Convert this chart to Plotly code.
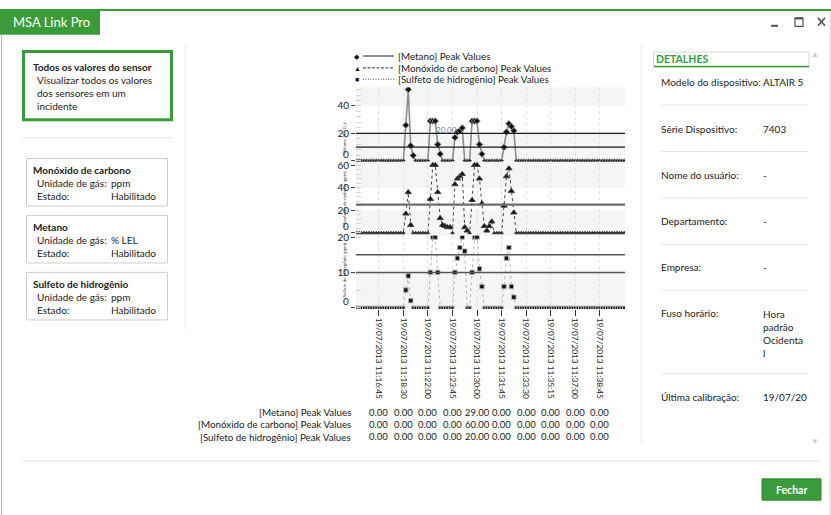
import plotly.graph_objects as go
from plotly.subplots import make_subplots

W, H = 831, 515
FONT = "Segoe UI, Lato, Noto Sans, sans-serif"
GREEN = "#3a9b3a"
TXT = "#222222"

# ---------------- data ----------------
sample = list(range(110))
metano = [0, 0, 0, 0, 0, 0, 0, 0, 0, 0,
          0, 0, 0, 0, 0, 0, 0, 0, 0, 0,
          26, 52, 11, 4, 0, 0, 0, 0, 0, 0,
          29, 29, 29, 12, 5, 0, 0, 0, 0, 0,
          17, 21, 22, 24, 0, 0, 0, 29, 29, 29,
          12, 5, 0, 0, 0, 0, 0, 0, 0, 0,
          10, 21, 27, 25, 22, 0, 0, 0, 0, 0,
          0, 0, 0, 0, 0, 0, 0, 0, 0, 0,
          0, 0, 0, 0, 0, 0, 0, 0, 0, 0,
          0, 0, 0, 0, 0, 0, 0, 0, 0, 0,
          0, 0, 0, 0, 0, 0, 0, 0, 0, 0]
monoxido = [0, 0, 0, 0, 0, 0, 0, 0, 0, 0,
            0, 0, 0, 0, 0, 0, 0, 0, 0, 0,
            17, 36, 7, 0, 0, 0, 0, 0, 0, 0,
            30, 60, 60, 36, 13, 7, 6, 5, 5, 0,
            43, 48, 50, 52, 5, 2, 0, 29, 60, 60,
            48, 26, 6, 2, 6, 10, 0, 0, 0, 0,
            24, 50, 57, 37, 18, 0, 0, 0, 0, 0,
            0, 0, 0, 0, 0, 0, 0, 0, 0, 0,
            0, 0, 0, 0, 0, 0, 0, 0, 0, 0,
            0, 0, 0, 0, 0, 0, 0, 0, 0, 0,
            0, 0, 0, 0, 0, 0, 0, 0, 0, 0]
sulfeto = [0, 0, 0, 0, 0, 0, 0, 0, 0, 0,
           0, 0, 0, 0, 0, 0, 0, 0, 0, 0,
           5, 9, 2, 0, 0, 0, 0, 0, 0, 0,
           10, 20, 20, 10, 0, 0, 0, 0, 0, 0,
           10, 14, 17, 20, 16, 0, 0, 10, 20, 20,
           11, 6, 0, 0, 0, 0, 0, 0, 0, 0,
           6, 14, 17, 6, 3, 0, 0, 0, 0, 0,
           0, 0, 0, 0, 0, 0, 0, 0, 0, 0,
           0, 0, 0, 0, 0, 0, 0, 0, 0, 0,
           0, 0, 0, 0, 0, 0, 0, 0, 0, 0,
           0, 0, 0, 0, 0, 0, 0, 0, 0, 0]
tick_labels = ["19/07/2013 11:16:45", "19/07/2013 11:18:30", "19/07/2013 11:22:00",
               "19/07/2013 11:23:45", "19/07/2013 11:30:00", "19/07/2013 11:31:45",
               "19/07/2013 11:33:30", "19/07/2013 11:35:15", "19/07/2013 11:37:00",
               "19/07/2013 11:38:45"]
tick_samples = sample[9::10][:len(tick_labels)]
series_names = ["[Metano] Peak Values", "[Monóxido de carbono] Peak Values",
                "[Sulfeto de hidrogênio] Peak Values"]
axis_titles = ["Metano [% LEL]", "Monóxido de carbono [ppm]", "Sulfeto de hidrogênio [ppm]"]
alarms_metano = [20, 10]
alarms_co = [25]
alarms_h2s = [15, 10]
sensor_cards = [("Monóxido de carbono", "ppm", "Habilitado"),
                ("Metano", "% LEL", "Habilitado"),
                ("Sulfeto de hidrogênio", "ppm", "Habilitado")]
details = [("Modelo do dispositivo:", "ALTAIR 5"),
           ("Série Dispositivo:", "7403"),
           ("Nome do usuário:", "-"),
           ("Departamento:", "-"),
           ("Empresa:", "-"),
           ("Fuso horário:", "Hora<br>padrão<br>Ocidenta<br>l"),
           ("Última calibração:", "19/07/20")]


def fx(px):
    return px / W


def fy(py):
    return 1 - py / H


def msize(values, big):
    # smaller markers on the flat zero baseline, as in the source chart
    return [3.2 if v == 0 else big for v in values]


fig = make_subplots(rows=3, cols=1, shared_xaxes=True, vertical_spacing=0)

# ---------------- series ----------------
fig.add_trace(go.Scatter(x=sample, y=metano, mode="lines+markers", name=series_names[0],
                         line=dict(color="#8c8c8c", width=1.6),
                         marker=dict(symbol="diamond", size=msize(metano, 5), color="#111",
                                     opacity=1)),
              row=1, col=1)
fig.add_trace(go.Scatter(x=sample, y=monoxido, mode="lines+markers", name=series_names[1],
                         line=dict(color="#444", width=1, dash="dot"),
                         marker=dict(symbol="triangle-up", size=msize(monoxido, 5.5), color="#111",
                                     opacity=1)),
              row=2, col=1)
fig.add_trace(go.Scatter(x=sample, y=sulfeto, mode="lines+markers", name=series_names[2],
                         line=dict(color="#b5b5b5", width=1, dash="dot"),
                         marker=dict(symbol="square", size=msize(sulfeto, 4.5), color="#111",
                                     opacity=1)),
              row=3, col=1)

# ---------------- background bands & alarm lines ----------------
BAND = "#f5f5f5"
fig.add_hrect(y0=40, y1=60, row=1, col=1, fillcolor=BAND, line_width=0, layer="below")
fig.add_hrect(y0=-5, y1=20, row=1, col=1, fillcolor=BAND, line_width=0, layer="below")
fig.add_hrect(y0=40, y1=70, row=2, col=1, fillcolor=BAND, line_width=0, layer="below")
fig.add_hrect(y0=-5, y1=20, row=2, col=1, fillcolor=BAND, line_width=0, layer="below")
fig.add_hrect(y0=-5, y1=10, row=3, col=1, fillcolor=BAND, line_width=0, layer="below")

for v in alarms_metano:
    fig.add_hline(y=v, row=1, col=1, line=dict(color="#1a1a1a", width=1.3))
for v in alarms_co:
    fig.add_hline(y=v, row=2, col=1, line=dict(color="#6e6e6e", width=2.2))
for v in alarms_h2s:
    fig.add_hline(y=v, row=3, col=1, line=dict(color="#555", width=1.5))

# ---------------- axes ----------------
xdom = [fx(356), fx(625)]
for i in (1, 2, 3):
    fig.update_xaxes(row=i, col=1, domain=xdom, range=[-0.3, 109.3],
                     tickmode="array", tickvals=tick_samples,
                     ticktext=tick_labels if i == 3 else [""] * len(tick_labels),
                     showgrid=True, gridcolor="#e2e2e2", griddash="dot", gridwidth=1,
                     zeroline=False, showline=False,
                     ticks="outside" if i == 3 else "", ticklen=6, tickcolor="#333",
                     tickangle=90, tickfont=dict(family=FONT, size=8.3, color=TXT))

ydefs = [
    (1, [fy(158), fy(83)], [-0.43, 53.7], [0, 20, 40], 4),
    (2, [fy(233), fy(158)], [-2.5, 63.2], [0, 20, 40, 60], 4),
    (3, [fy(307), fy(233)], [-0.36, 20.36], [0, 10, 20], 5),
]
for r, dom, rng, tv, mdt in ydefs:
    fig.update_yaxes(row=r, col=1, domain=dom, range=rng, tickmode="array", tickvals=tv,
                     ticktext=["" if t == 0 else str(t) for t in tv],
                     ticks="outside", ticklen=4, tickcolor="#444",
                     tickfont=dict(family=FONT, size=10, color=TXT),
                     showgrid=False, zeroline=False, showline=False,
                     minor=dict(tickmode="linear", tick0=0, dtick=mdt, ticks="inside",
                                ticklen=5, tickcolor="#d4d4d4", showgrid=False))
    # zero label nudged up as in the source chart
    fig.add_annotation(xref="paper", yref="y" if r == 1 else f"y{r}", x=fx(351), y=0,
                       yshift=7, text="0", showarrow=False, xanchor="right",
                       font=dict(family=FONT, size=10, color=TXT))

# tiny rotated axis titles
for r, (title, yc) in enumerate(zip(axis_titles, [118, 196, 268]), start=1):
    fig.add_annotation(xref="paper", yref="paper", x=fx(344), y=fy(yc), text=title,
                       textangle=-90, showarrow=False,
                       font=dict(family=FONT, size=4.5, color="#333"))

# value label on chart
fig.add_annotation(xref="paper", yref="paper", x=fx(434), y=fy(119), xanchor="left",
                   text=f"{max(sulfeto):.2f}".replace(".", ","), showarrow=False,
                   font=dict(family=FONT, size=8, color="#5a78a8"))

shapes = []
ann = []


def text(x, y, s, size=10, color=TXT, bold=False, anchor="left", va="middle", xref="paper",
         family=FONT):
    ann.append(dict(xref=xref, yref="paper", x=x if xref != "paper" else fx(x), y=fy(y),
                    text=f"<b>{s}</b>" if bold else s, showarrow=False, xanchor=anchor,
                    yanchor=va, align="left", font=dict(family=family, size=size, color=color)))


def rect(x0, y0, x1, y1, line=None, lw=1, fill=None):
    shapes.append(dict(type="rect", xref="paper", yref="paper", x0=fx(x0), x1=fx(x1),
                       y0=fy(y1), y1=fy(y0),
                       line=dict(color=line or "rgba(0,0,0,0)", width=lw if line else 0),
                       fillcolor=fill or "rgba(0,0,0,0)", layer="below"))


def line(x0, y0, x1, y1, color="#e3e3e3", lw=1):
    shapes.append(dict(type="line", xref="paper", yref="paper", x0=fx(x0), x1=fx(x1),
                       y0=fy(y0), y1=fy(y1), line=dict(color=color, width=lw)))


# ---------------- legend (manual) ----------------
leg_rows = [(51.5, "diamond", dict(color="#555", width=1.3, dash="solid")),
            (63.5, "triangle", dict(color="#333", width=1, dash="3px,1.5px")),
            (75, "square", dict(color="#555", width=1, dash="1px,1.5px"))]
sym = {"diamond": "◆", "triangle": "▲", "square": "■"}
for (yy, s, ls), name in zip(leg_rows, series_names):
    text(357, yy, sym[s], size=7, color="#111", anchor="center")
    shapes.append(dict(type="line", xref="paper", yref="paper", x0=fx(363), x1=fx(394),
                       y0=fy(yy), y1=fy(yy), line=ls))
    text(396, yy, name, size=9.8)

# ---------------- data table under chart ----------------
for yy, name, ser in zip([411, 423.5, 436], series_names, [metano, monoxido, sulfeto]):
    text(353, yy, name, size=9.8, anchor="right")
    for s in tick_samples:
        text(s, yy, f"{ser[s]:.2f}", size=9.5, anchor="center", xref="x3")

# ---------------- window chrome ----------------
rect(0, 4, W, 6, fill=GREEN)
rect(0, 5, 100, 30, fill=GREEN)
text(11, 17.5, "MSA Link Pro", size=13, color="white")
line(1.5, 30, 1.5, H, color="#b8b8b8", lw=1)
line(W - 1, 6, W - 1, H, color="#d0d0d0", lw=1)
# window controls
line(771, 21, 778, 21, color="#555", lw=2)
rect(795, 13, 803, 21.5, line="#555", lw=1.2)
line(795, 13.6, 803, 13.6, color="#555", lw=2)
line(818, 13, 825, 21, color="#555", lw=1.6)
line(825, 13, 818, 21, color="#555", lw=1.6)

# ---------------- left panel ----------------
rect(23.5, 47, 171.5, 116, line=GREEN, lw=3)
text(31, 62.5, "Todos os valores do sensor", size=10, bold=True)
text(35, 76, "Visualizar todos os valores", size=10)
text(35, 89, "dos sensores em um", size=10)
text(35, 102, "incidente", size=10)
line(22, 134, 172, 134, color="#e6e6e6")
line(185, 40, 185, 328, color="#ececec")
for top, (name, unit, state) in zip([155, 212.5, 270], sensor_cards):
    rect(26.5, top, 167.5, top + 48, line="#cfcfcf", lw=1)
    text(31, top + 11.5, name, size=10, bold=True)
    text(35, top + 25, "Unidade de gás:", size=10)
    text(109, top + 25, unit, size=10)
    text(35, top + 38, "Estado:", size=10)
    text(109, top + 38, state, size=10)

# ---------------- right panel ----------------
line(641, 40, 641, 442, color="#ececec")
rect(653.5, 47.5, 809, 62.5, line="#d6d6d6", lw=1)
line(654, 62, 809, 62, color=GREEN, lw=1.5)
text(654, 55, "DETALHES", size=10.5, color=GREEN, bold=True)
text(815, 49, "▲", size=8, color="#c8c8c8", anchor="center")
text(815, 440, "▼", size=8, color="#c8c8c8", anchor="center")
rows_y = [78, 125, 172, 218, 265, 311, 396]
for yy, (lab, val) in zip(rows_y, details):
    text(659, yy, lab, size=10)
    if "<br>" in val:
        text(761, yy - 7, val, size=10, va="top")
    else:
        text(761, yy, val, size=10)
for yy in [101, 148, 195, 242, 288, 372]:
    line(661, yy, 808, yy, color="#e6e6e6")

# ---------------- footer ----------------
line(22, 460.5, 820, 460.5, color="#e3e3e3")
rect(762, 478.5, 821, 500, fill=GREEN, line="#2f8a2f", lw=1)
text(791.5, 489.5, "Fechar", size=10.5, color="white", bold=True, anchor="center")

fig.update_layout(width=W, height=H, margin=dict(l=0, r=0, t=0, b=0),
                  paper_bgcolor="white", plot_bgcolor="white", showlegend=False,
                  font=dict(family=FONT, color=TXT),
                  shapes=list(fig.layout.shapes) + shapes,
                  annotations=list(fig.layout.annotations) + ann)

fig.write_html("out.html", config={"displayModeBar": False},
               post_script="document.body.style.margin='0';document.body.style.overflow='hidden';")
